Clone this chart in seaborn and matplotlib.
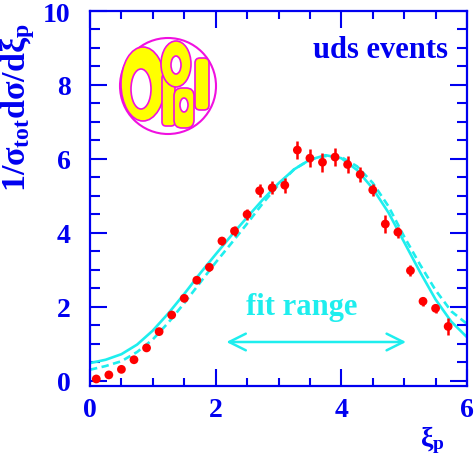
import numpy as np
import pandas as pd
import seaborn as sns
import matplotlib.pyplot as plt
from matplotlib.patches import Ellipse, Circle, FancyBboxPatch
from matplotlib.ticker import MultipleLocator

# Data points (OPAL uds events, xi_p distribution)
xi_p = [0.1, 0.3, 0.5, 0.7, 0.9, 1.1, 1.3, 1.5, 1.7, 1.9, 2.1, 2.3, 2.5, 2.7, 2.9,
        3.1, 3.3, 3.5, 3.7, 3.9, 4.1, 4.3, 4.5, 4.7, 4.9, 5.1, 5.3, 5.5, 5.7]
dist = [0.05, 0.16, 0.31, 0.57, 0.89, 1.33, 1.78, 2.23, 2.72, 3.07, 3.78, 4.05, 4.50, 5.14, 5.22,
        5.29, 6.24, 6.02, 5.91, 6.05, 5.85, 5.58, 5.16, 4.24, 4.02, 2.98, 2.15, 1.96, 1.47]
dist_err = [0.02, 0.02, 0.03, 0.03, 0.04, 0.05, 0.06, 0.07, 0.08, 0.10, 0.12, 0.13, 0.15, 0.17, 0.17,
            0.20, 0.24, 0.24, 0.26, 0.24, 0.22, 0.20, 0.16, 0.25, 0.15, 0.15, 0.13, 0.13, 0.22]

# Fit curves
curve_x = [0.0, 0.25, 0.5, 0.75, 1.0, 1.25, 1.5, 1.75, 2.0, 2.25, 2.5, 2.75, 3.0,
           3.25, 3.5, 3.75, 4.0, 4.25, 4.5, 4.75, 5.0, 5.25, 5.5, 5.75, 6.0]
fit_solid = [0.48, 0.57, 0.72, 0.98, 1.36, 1.83, 2.35, 2.90, 3.42, 3.93, 4.42, 4.90, 5.34,
             5.72, 5.98, 6.10, 6.02, 5.70, 5.20, 4.55, 3.75, 2.95, 2.20, 1.60, 1.18]
fit_dashed = [0.30, 0.40, 0.53, 0.78, 1.12, 1.58, 2.10, 2.65, 3.20, 3.72, 4.25, 4.80, 5.30,
              5.72, 5.98, 6.08, 6.05, 5.80, 5.35, 4.72, 3.90, 3.15, 2.45, 1.88, 1.54]

fit_range = (2.17, 5.03)

blue = '#0000F0'
cyan = '#1EEEEE'
red = '#FF0000'
magenta = '#F010E0'
yellow = '#FFFF00'

sns.set_style("ticks")
plt.rcParams['font.family'] = ['Liberation Serif', 'DejaVu Serif']
plt.rcParams['mathtext.fontset'] = 'custom'
plt.rcParams['mathtext.rm'] = 'Liberation Serif:bold'
plt.rcParams['mathtext.it'] = 'Liberation Serif:bold'
plt.rcParams['mathtext.bf'] = 'Liberation Serif:bold'

fig = plt.figure(figsize=(4.76, 4.6), dpi=100)
ax = fig.add_axes([90/476, 73/460, 377/476, 375/460])

df_curves = pd.DataFrame({'x': curve_x, 'solid': fit_solid, 'dashed': fit_dashed})
sns.lineplot(data=df_curves, x='x', y='solid', ax=ax, color=cyan, lw=1.9)
sns.lineplot(data=df_curves, x='x', y='dashed', ax=ax, color=cyan, lw=1.9,
             linestyle=(0, (2.8, 1.7)))

ax.errorbar(xi_p, dist, yerr=dist_err, fmt='none', ecolor=red, elinewidth=1.8, capsize=0)
sns.scatterplot(x=xi_p, y=dist, ax=ax, color=red, s=40, edgecolor='none', zorder=5)

ax.set_xlim(0, 6)
ax.set_ylim(-0.14, 10)
ax.set_xlabel('')
ax.set_ylabel('')
ax.xaxis.set_major_locator(MultipleLocator(2))
ax.xaxis.set_minor_locator(MultipleLocator(0.5))
ax.yaxis.set_major_locator(MultipleLocator(2))
ax.yaxis.set_minor_locator(MultipleLocator(0.5))
for sp in ax.spines.values():
    sp.set_visible(True)
    sp.set_color(blue)
    sp.set_linewidth(1.6)
ax.tick_params(which='both', direction='in', top=True, right=True, colors=blue, width=1.5)
ax.tick_params(axis='x', which='major', length=12, pad=8)
ax.tick_params(axis='x', which='minor', length=5.5)
ax.tick_params(axis='y', which='major', length=12, pad=14)
ax.tick_params(axis='y', which='minor', length=7)
for lab in ax.get_xticklabels() + ax.get_yticklabels():
    lab.set_fontsize(20)
    lab.set_fontweight('bold')
    lab.set_color(blue)

# fit range arrow and texts
ax.annotate('', xy=(fit_range[0], 1.05), xytext=(fit_range[1], 1.05),
            arrowprops=dict(arrowstyle='<->,head_length=0.6,head_width=0.3',
                            color=cyan, lw=1.8, mutation_scale=20, shrinkA=0, shrinkB=0))
ax.text(3.37, 2.0, 'fit range', color=cyan, fontsize=22, fontweight='bold',
        ha='center', va='center')
ax.text(5.7, 8.97, 'uds events', color=blue, fontsize=22, fontweight='bold',
        ha='right', va='center')

fig.text(18/476, 1 - 108/460, r'$1/\sigma_{tot}d\sigma/d\xi_p$', rotation=90,
         color=blue, fontsize=24.5, ha='center', va='center')
fig.text(432/476, 1 - 440/460, r'$\xi_p$', color=blue, fontsize=20,
         ha='center', va='center')

# OPAL logo (approximation)
lax = fig.add_axes([118/476, (460-137)/460, 100/476, 100/460])
lax.set_xlim(0, 100)
lax.set_ylim(0, 100)
lax.axis('off')
lax.add_patch(Circle((50, 50), 48, fill=False, edgecolor=magenta, lw=1.5))
kw = dict(facecolor=yellow, edgecolor=magenta, lw=1.2)
lax.add_patch(Ellipse((25, 52), 44, 74, **kw))
lax.add_patch(FancyBboxPatch((44, 10), 13, 52, boxstyle='round,pad=0,rounding_size=4', **kw))
lax.add_patch(Ellipse((58, 72), 30, 46, **kw))
lax.add_patch(FancyBboxPatch((56, 8), 20, 40, boxstyle='round,pad=0,rounding_size=8', **kw))
lax.add_patch(FancyBboxPatch((77, 26), 14, 52, boxstyle='round,pad=0,rounding_size=5', **kw))
lax.add_patch(Ellipse((23, 47), 20, 40, facecolor='white', edgecolor=magenta, lw=1.2))
lax.add_patch(Ellipse((58, 71), 10, 18, facecolor='white', edgecolor=magenta, lw=1.2))
lax.add_patch(Ellipse((66, 31), 8, 14, facecolor='white', edgecolor=magenta, lw=1.2))

fig.savefig('out.png', dpi=100)
